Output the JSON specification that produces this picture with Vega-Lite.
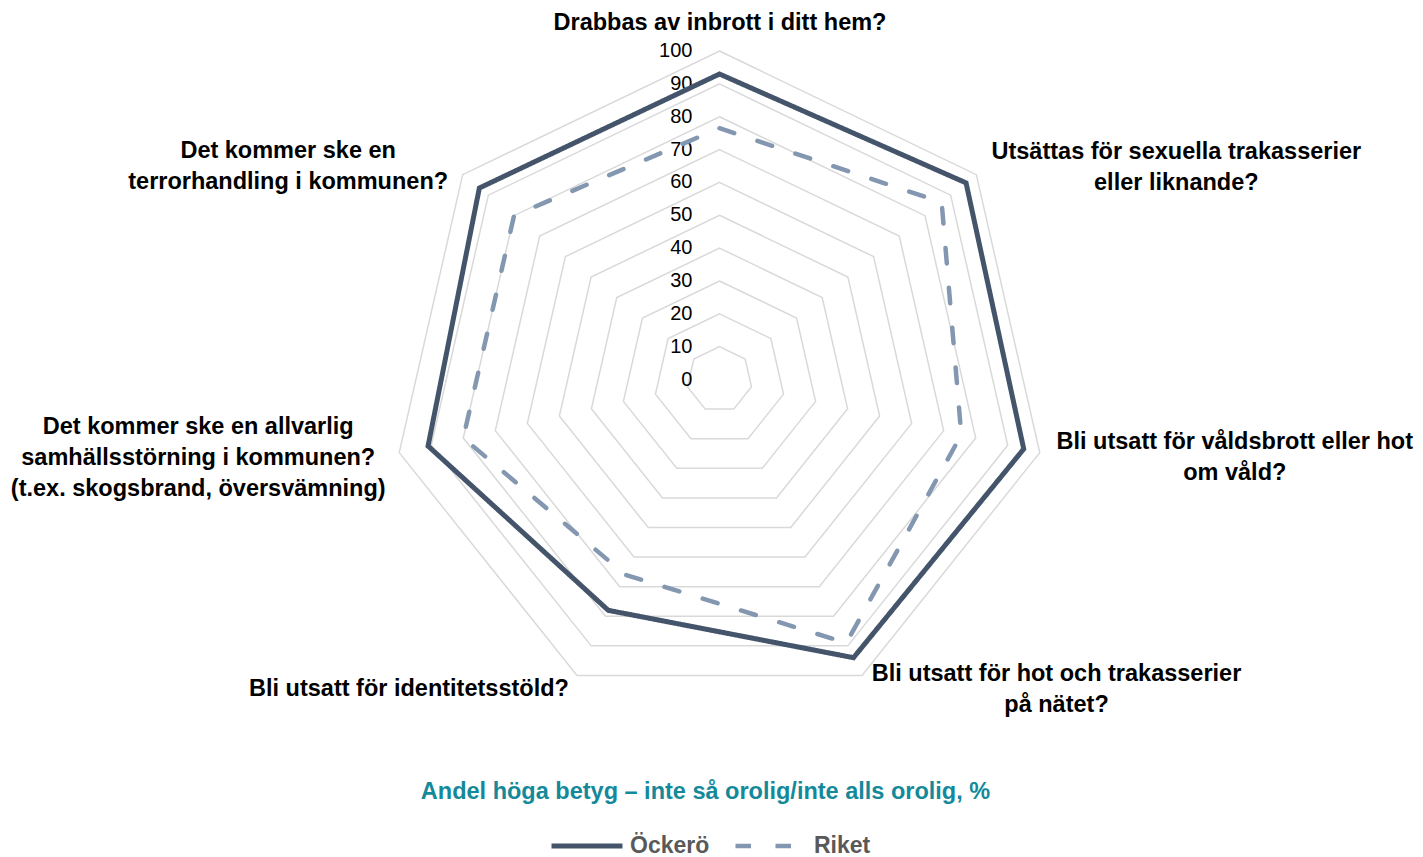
{
  "$schema": "https://vega.github.io/schema/vega-lite/v6.json",
  "width": 1423,
  "height": 857,
  "padding": 0,
  "autosize": {"type": "none"},
  "background": "white",
  "config": {
    "view": {"stroke": null},
    "font": "Liberation Sans",
    "legend": {
      "orient": "none",
      "legendX": 549,
      "legendY": 808,
      "direction": "horizontal",
      "symbolType": "stroke",
      "symbolSize": 5041,
      "symbolStrokeWidth": 5,
      "labelFontSize": 23,
      "labelFont": "Liberation Sans",
      "labelFontWeight": "bold",
      "labelColor": "#595959",
      "columnPadding": 16,
      "labelOffset": 5,
      "padding": 0
    }
  },
  "title": {
    "text": "Andel höga betyg – inte så orolig/inte alls orolig, %",
    "orient": "bottom",
    "anchor": "middle",
    "frame": "group",
    "offset": -78,
    "color": "#14899a",
    "fontSize": 23.5,
    "fontWeight": "bold",
    "font": "Liberation Sans",
    "dx": -6
  },
  "datasets": {
    "values": [
      {"category": "Drabbas av inbrott i ditt hem?", "k": 0, "series": "Öckerö", "value": 93},
      {"category": "Utsättas för sexuella trakasserier\neller liknande?", "k": 1, "series": "Öckerö", "value": 96},
      {"category": "Bli utsatt för våldsbrott eller hot\nom våld?", "k": 2, "series": "Öckerö", "value": 95},
      {"category": "Bli utsatt för hot och trakasserier\npå nätet?", "k": 3, "series": "Öckerö", "value": 94},
      {"category": "Bli utsatt för identitetsstöld?", "k": 4, "series": "Öckerö", "value": 78},
      {"category": "Det kommer ske en allvarlig\nsamhällsstörning i kommunen?\n(t.ex. skogsbrand, översvämning)", "k": 5, "series": "Öckerö", "value": 91},
      {"category": "Det kommer ske en\nterrorhandling i kommunen?", "k": 6, "series": "Öckerö", "value": 93.5},
      {"category": "Drabbas av inbrott i ditt hem?", "k": 0, "series": "Riket", "value": 76.5},
      {"category": "Utsättas för sexuella trakasserier\neller liknande?", "k": 1, "series": "Riket", "value": 86.5},
      {"category": "Bli utsatt för våldsbrott eller hot\nom våld?", "k": 2, "series": "Riket", "value": 75.5},
      {"category": "Bli utsatt för hot och trakasserier\npå nätet?", "k": 3, "series": "Riket", "value": 89},
      {"category": "Bli utsatt för identitetsstöld?", "k": 4, "series": "Riket", "value": 66},
      {"category": "Det kommer ske en allvarlig\nsamhällsstörning i kommunen?\n(t.ex. skogsbrand, översvämning)", "k": 5, "series": "Riket", "value": 80},
      {"category": "Det kommer ske en\nterrorhandling i kommunen?", "k": 6, "series": "Riket", "value": 80}
    ],
    "levels": [
      {"level": 0, "k": [0, 1, 2, 3, 4, 5, 6]},
      {"level": 10, "k": [0, 1, 2, 3, 4, 5, 6]},
      {"level": 20, "k": [0, 1, 2, 3, 4, 5, 6]},
      {"level": 30, "k": [0, 1, 2, 3, 4, 5, 6]},
      {"level": 40, "k": [0, 1, 2, 3, 4, 5, 6]},
      {"level": 50, "k": [0, 1, 2, 3, 4, 5, 6]},
      {"level": 60, "k": [0, 1, 2, 3, 4, 5, 6]},
      {"level": 70, "k": [0, 1, 2, 3, 4, 5, 6]},
      {"level": 80, "k": [0, 1, 2, 3, 4, 5, 6]},
      {"level": 90, "k": [0, 1, 2, 3, 4, 5, 6]},
      {"level": 100, "k": [0, 1, 2, 3, 4, 5, 6]}
    ]
  },
  "resolve": {"scale": {"x": "shared", "y": "shared"}},
  "layer": [
    {
      "data": {"name": "levels"},
      "transform": [
        {"filter": "datum.level > 0"},
        {"flatten": ["k"]},
        {"calculate": "datum.k * 2 * PI / 7", "as": "a"},
        {"calculate": "datum.level * sin(datum.a)", "as": "px"},
        {"calculate": "datum.level * cos(datum.a)", "as": "py"}
      ],
      "mark": {"type": "line", "interpolate": "linear-closed", "stroke": "#d9d9d9", "strokeWidth": 1.5},
      "encoding": {
        "x": {"field": "px", "type": "quantitative", "scale": {"domain": [-219.03, 214.16], "nice": false, "zero": false}, "axis": null},
        "y": {"field": "py", "type": "quantitative", "scale": {"domain": [-145.36, 115.53], "nice": false, "zero": false}, "axis": null},
        "detail": {"field": "level"},
        "order": {"field": "k", "type": "quantitative"}
      }
    },
    {
      "data": {"name": "levels"},
      "mark": {"type": "text", "align": "right", "baseline": "middle", "dx": -27, "fontSize": 20, "color": "#000000"},
      "encoding": {
        "x": {"datum": 0, "type": "quantitative"},
        "y": {"field": "level", "type": "quantitative"},
        "text": {"field": "level"}
      }
    },
    {
      "data": {"name": "values"},
      "transform": [
        {"calculate": "datum.k * 2 * PI / 7", "as": "a"},
        {"calculate": "datum.value * sin(datum.a)", "as": "px"},
        {"calculate": "datum.value * cos(datum.a)", "as": "py"}
      ],
      "mark": {"type": "line", "interpolate": "linear-closed", "strokeCap": "round", "strokeJoin": "miter"},
      "encoding": {
        "x": {"field": "px", "type": "quantitative"},
        "y": {"field": "py", "type": "quantitative"},
        "order": {"field": "k", "type": "quantitative"},
        "color": {"field": "series", "type": "nominal", "scale": {"domain": ["Öckerö", "Riket"], "range": ["#44546A", "#8497B0"]}, "legend": {"title": null}},
        "strokeDash": {"field": "series", "type": "nominal", "scale": {"domain": ["Öckerö", "Riket"], "range": [[1, 0], [15.5, 24.5]]}, "legend": {"title": null}},
        "strokeWidth": {"field": "series", "type": "nominal", "scale": {"domain": ["Öckerö", "Riket"], "range": [5, 4.5]}, "legend": null}
      }
    },
    {
      "data": {"name": "values"},
      "transform": [
        {"filter": "datum.series == 'Öckerö'"},
        {"calculate": "datum.k * 2 * PI / 7", "as": "a"},
        {"calculate": "100 * sin(datum.a)", "as": "px"},
        {"calculate": "100 * cos(datum.a)", "as": "py"}
      ],
      "layer": [
        {"transform": [{"filter": "datum.k == 0"}], "mark": {"type": "text", "align": "center", "baseline": "middle", "lineBreak": "\n", "lineHeight": 31, "fontSize": 23.5, "fontWeight": "bold", "color": "#000000", "dx": 0.5, "dy": -28}, "encoding": {"x": {"field": "px", "type": "quantitative"}, "y": {"field": "py", "type": "quantitative"}, "text": {"field": "category"}}},
        {"transform": [{"filter": "datum.k == 1"}], "mark": {"type": "text", "align": "center", "baseline": "middle", "lineBreak": "\n", "lineHeight": 31, "fontSize": 23.5, "fontWeight": "bold", "color": "#000000", "dx": 200, "dy": -23}, "encoding": {"x": {"field": "px", "type": "quantitative"}, "y": {"field": "py", "type": "quantitative"}, "text": {"field": "category"}}},
        {"transform": [{"filter": "datum.k == 2"}], "mark": {"type": "text", "align": "center", "baseline": "middle", "lineBreak": "\n", "lineHeight": 31, "fontSize": 23.5, "fontWeight": "bold", "color": "#000000", "dx": 195, "dy": -10.5}, "encoding": {"x": {"field": "px", "type": "quantitative"}, "y": {"field": "py", "type": "quantitative"}, "text": {"field": "category"}}},
        {"transform": [{"filter": "datum.k == 3"}], "mark": {"type": "text", "align": "center", "baseline": "middle", "lineBreak": "\n", "lineHeight": 31, "fontSize": 23.5, "fontWeight": "bold", "color": "#000000", "dx": 194.5, "dy": -1}, "encoding": {"x": {"field": "px", "type": "quantitative"}, "y": {"field": "py", "type": "quantitative"}, "text": {"field": "category"}}},
        {"transform": [{"filter": "datum.k == 4"}], "mark": {"type": "text", "align": "center", "baseline": "middle", "lineBreak": "\n", "lineHeight": 31, "fontSize": 23.5, "fontWeight": "bold", "color": "#000000", "dx": -168, "dy": 14}, "encoding": {"x": {"field": "px", "type": "quantitative"}, "y": {"field": "py", "type": "quantitative"}, "text": {"field": "category"}}},
        {"transform": [{"filter": "datum.k == 5"}], "mark": {"type": "text", "align": "center", "baseline": "middle", "lineBreak": "\n", "lineHeight": 31, "fontSize": 23.5, "fontWeight": "bold", "color": "#000000", "dx": -201, "dy": -25.5}, "encoding": {"x": {"field": "px", "type": "quantitative"}, "y": {"field": "py", "type": "quantitative"}, "text": {"field": "category"}}},
        {"transform": [{"filter": "datum.k == 6"}], "mark": {"type": "text", "align": "center", "baseline": "middle", "lineBreak": "\n", "lineHeight": 31, "fontSize": 23.5, "fontWeight": "bold", "color": "#000000", "dx": -174.5, "dy": -23.5}, "encoding": {"x": {"field": "px", "type": "quantitative"}, "y": {"field": "py", "type": "quantitative"}, "text": {"field": "category"}}}
      ]
    }
  ]
}
